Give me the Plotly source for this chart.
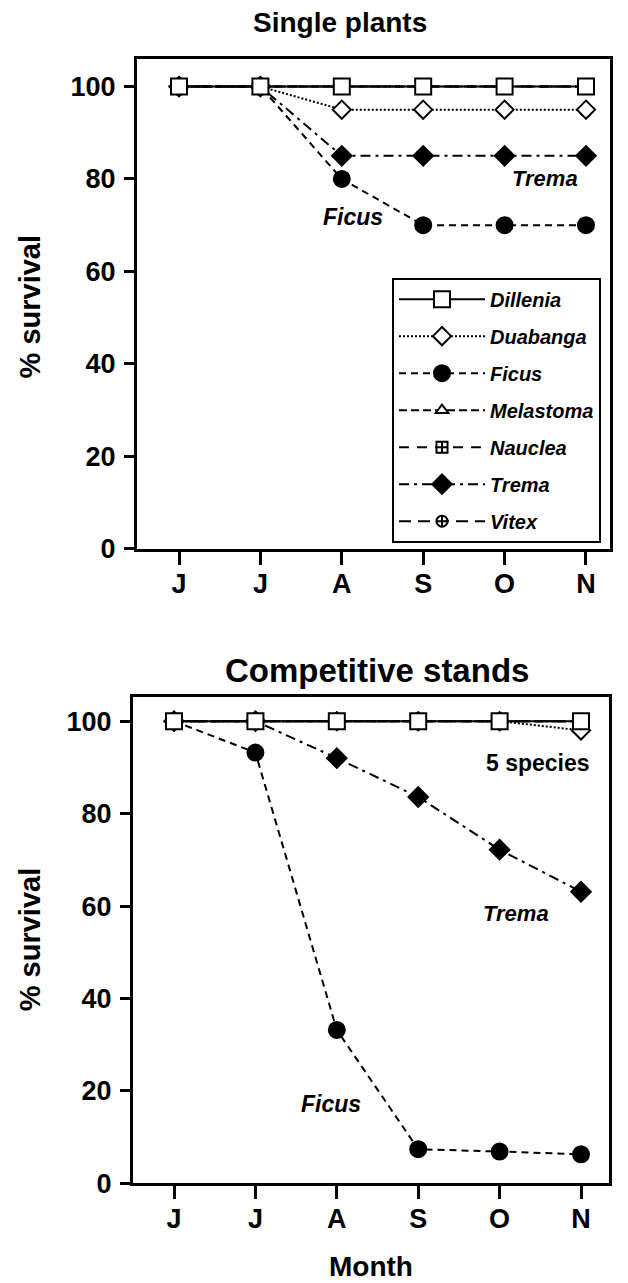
import plotly.graph_objects as go

# ---- data ----
month_idx = [0, 1, 2, 3, 4, 5]
month_labels = ["J", "J", "A", "S", "O", "N"]
species = ["Dillenia", "Duabanga", "Ficus", "Melastoma", "Nauclea", "Trema", "Vitex"]

# Single plants (% survival)
single_dillenia = [100, 100, 100, 100, 100, 100]
single_duabanga = [100, 100, 95, 95, 95, 95]
single_ficus = [100, 100, 80, 70, 70, 70]
single_melastoma = [100, 100, 100, 100, 100, 100]
single_nauclea = [100, 100, 100, 100, 100, 100]
single_trema = [100, 100, 85, 85, 85, 85]
single_vitex = [100, 100, 100, 100, 100, 100]

# Competitive stands (% survival)
comp_dillenia = [100, 100, 100, 100, 100, 100]
comp_duabanga = [100, 100, 100, 100, 100, 98]
comp_ficus = [100, 93.2, 33.2, 7.4, 6.9, 6.3]
comp_melastoma = [100, 100, 100, 100, 100, 100]
comp_nauclea = [100, 100, 100, 100, 100, 100]
comp_trema = [100, 100, 92, 83.6, 72.2, 63.1]
comp_vitex = [100, 100, 100, 100, 100, 100]

single = [single_dillenia, single_duabanga, single_ficus, single_melastoma,
          single_nauclea, single_trema, single_vitex]
comp = [comp_dillenia, comp_duabanga, comp_ficus, comp_melastoma,
        comp_nauclea, comp_trema, comp_vitex]

# ---- styles ----
FONT = "Liberation Sans, Arial, sans-serif"
styles = {
    "Dillenia": dict(symbol="square", fill="white", dash="solid", size=16),
    "Duabanga": dict(symbol="diamond", fill="white", dash="2px,2px", size=14),
    "Ficus": dict(symbol="circle", fill="black", dash="7px,5px", size=16),
    "Melastoma": dict(symbol="triangle-up", fill="white", dash="8px,4px", size=11),
    "Nauclea": dict(symbol="square-cross", fill="white", dash="10px,8px", size=11),
    "Trema": dict(symbol="diamond", fill="black", dash="10px,5px,3px,5px", size=15),
    "Vitex": dict(symbol="circle-cross", fill="white", dash="12px,7px", size=11),
}

fig = go.Figure()

draw_order = [6, 5, 4, 3, 2, 1, 0]  # Dillenia drawn last (on top)
for panel, data, xa, ya in [(0, single, "x", "y"), (1, comp, "x2", "y2")]:
    for i in draw_order:
        name = species[i]
        st = styles[name]
        fig.add_trace(go.Scatter(
            x=month_idx, y=data[i], mode="lines+markers", name=name,
            xaxis=xa, yaxis=ya,
            line=dict(color="black", width=2, dash=st["dash"]),
            marker=dict(symbol=st["symbol"], size=st["size"], color=st["fill"],
                        line=dict(color="black", width=2)),
            showlegend=(panel == 0), legendrank=i + 1, legendgroup=name,
        ))

W, H = 628, 1283
def px_x(p):
    return p / W
def px_y(p):
    q = (p + 2.5) / 0.9917
    return 1 - q / H

axis_common = dict(showline=True, linewidth=3, linecolor="black", mirror=True,
                   showgrid=False, zeroline=False, ticks="outside", tickwidth=2.5,
                   tickcolor="black")
tickfont = dict(family=FONT, size=27, color="black", weight="bold")

fig.update_layout(
    width=W, height=H, margin=dict(l=0, r=0, t=0, b=0),
    paper_bgcolor="white", plot_bgcolor="white",
    xaxis=dict(domain=[px_x(137), px_x(610)], range=[-0.516, 5.295], anchor="y",
               tickvals=month_idx, ticktext=month_labels, ticklen=13, ticklabelstandoff=-4,
               tickfont=tickfont, **axis_common),
    yaxis=dict(domain=[px_y(548), px_y(57)], range=[0, 105.9], anchor="x",
               tickvals=[0, 20, 40, 60, 80, 100], ticklen=10, ticklabelstandoff=3,
               tickfont=tickfont, **axis_common),
    xaxis2=dict(domain=[px_x(133), px_x(609)], range=[-0.504, 5.344], anchor="y2",
                tickvals=month_idx, ticktext=month_labels, ticklen=13, ticklabelstandoff=-4,
                tickfont=tickfont, **axis_common),
    yaxis2=dict(domain=[px_y(1185), px_y(697)], range=[0, 105.2], anchor="x2",
                tickvals=[0, 20, 40, 60, 80, 100], ticklen=10, ticklabelstandoff=3,
                tickfont=tickfont, **axis_common),
    legend=dict(x=px_x(601), y=px_y(542), xanchor="right", yanchor="bottom",
                bordercolor="black", borderwidth=2, bgcolor="white",
                font=dict(family=FONT, size=20, color="black", weight="bold", style="italic"),
                traceorder="grouped", tracegroupgap=8, itemwidth=86),
    showlegend=True,
)

ann_bold = dict(family=FONT, color="black", weight="bold")
def ann(text, x, y, size, xref="paper", yref="paper", italic=False, angle=0):
    f = dict(size=size, **ann_bold)
    if italic:
        f["style"] = "italic"
    return dict(text=text, x=x, y=y, xref=xref, yref=yref, showarrow=False,
                xanchor="center", yanchor="middle", textangle=angle, font=f)

annotations = [
    ann("Single plants", px_x(340), px_y(20), 28),
    ann("Competitive stands", px_x(377), px_y(670), 33),
    ann("Month", px_x(371), px_y(1268), 28),
    ann("% survival", px_x(30), px_y(306), 29, angle=-90),
    ann("% survival", px_x(30), px_y(941), 29, angle=-90),
    ann("Trema", 4.5, 80, 22, "x", "y", italic=True),
    ann("Ficus", 2.14, 71.8, 23, "x", "y", italic=True),
    ann("5 species", 4.47, 91, 23, "x2", "y2"),
    ann("Trema", 4.2, 58.3, 22, "x2", "y2", italic=True),
    ann("Ficus", 1.93, 17.2, 23, "x2", "y2", italic=True),
]
fig.update_layout(annotations=annotations)

fig.write_html("out.html", config={"displayModeBar": False},
               post_script="document.body.style.margin='0';document.body.style.overflow='hidden';")
